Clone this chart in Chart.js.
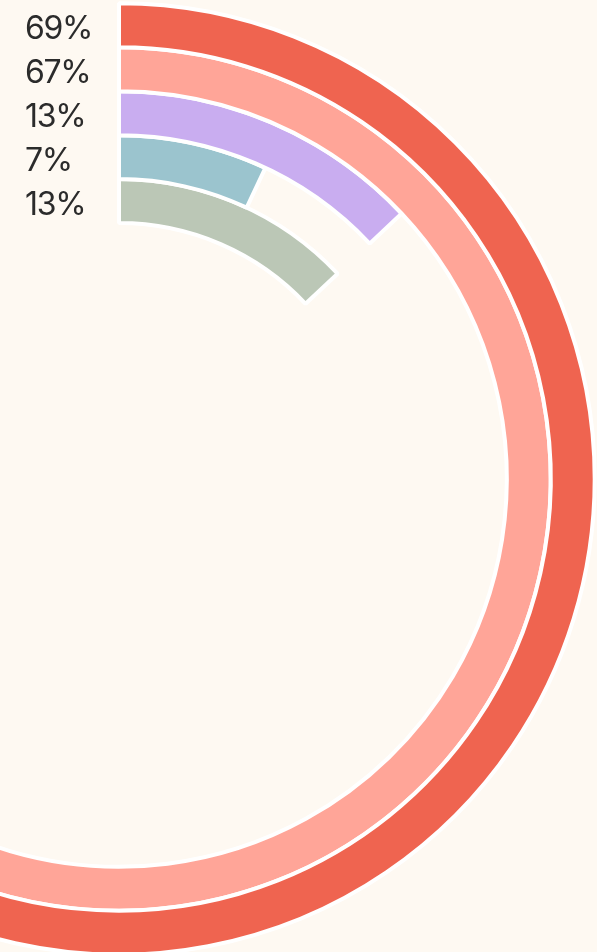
<!DOCTYPE html>
<html>
<head>
<meta charset="utf-8">
<script src="https://cdn.jsdelivr.net/npm/chart.js@4"></script>
<style>
    html, body {
        margin: 0;
        padding: 0;
        width: 597px;
        height: 952px;
        overflow: hidden;
        background: #fef9f2;
    }
    #wrap {
        position: absolute;
        left: -381px;
        top: -21px;
        width: 1000px;
        height: 1000px;
    }
</style>
</head>
<body>
<div id="wrap"><canvas id="radialBars" width="1000" height="1000"></canvas></div>
<script>
// one ring per value, outermost first
const labels = ['69%', '67%', '13%', '7%', '13%'];
const values = [69, 67, 13, 7, 13];
const colors = ['#ef6450', '#ffa598', '#c9adf0', '#9bc4ce', '#bbc7b6'];

const datasets = values.map((v, i) => ({
    label: labels[i],
    data: [v, 100 - v],
    backgroundColor: [colors[i], 'rgba(0,0,0,0)'],
    borderColor: ['#ffffff', 'rgba(0,0,0,0)'],
    borderWidth: [4, 0],
    hoverOffset: 0
}));

// percentage text at the left of each ring, centred on the ring
const ringLabels = {
    id: 'ringLabels',
    afterDraw(chart) {
        const ctx = chart.ctx;
        ctx.save();
        ctx.fillStyle = '#2b2b2b';
        ctx.font = '400 32px Inter, "Noto Sans", sans-serif';
        ctx.letterSpacing = '-1.3px';
        ctx.textBaseline = 'alphabetic';
        ctx.textAlign = 'left';
        chart.data.datasets.forEach((ds, i) => {
            const arc = chart.getDatasetMeta(i).data[0];
            const mid = (arc.outerRadius + arc.innerRadius) / 2;
            ctx.fillText(ds.label, arc.x - 94, arc.y - mid + 13.5);
        });
        ctx.restore();
    }
};

const chart = new Chart(document.getElementById('radialBars'), {
    type: 'doughnut',
    data: { labels: ['value', 'rest'], datasets: datasets },
    options: {
        responsive: false,
        animation: false,
        radius: 475.7,
        cutout: '53.8%',
        plugins: {
            legend: { display: false },
            tooltip: { enabled: false }
        }
    },
    plugins: [ringLabels]
});
</script>
</body>
</html>
